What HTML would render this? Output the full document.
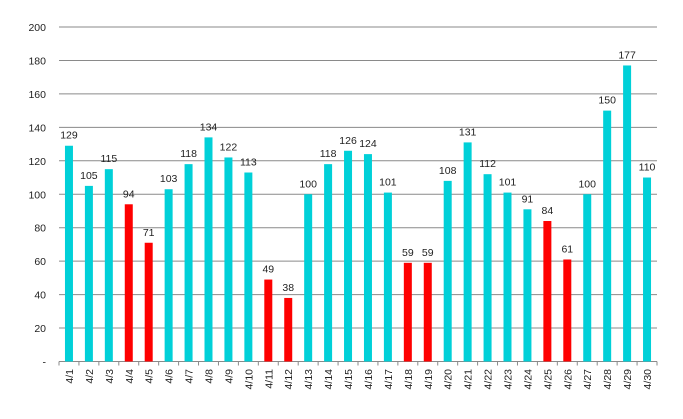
<!DOCTYPE html>
<html><head><meta charset="utf-8"><style>body{margin:0;background:#fff}svg{display:block}text{font-family:"Liberation Sans","DejaVu Sans",sans-serif;font-size:10.5px;fill:#222}</style></head><body>
<svg width="683" height="419" xmlns="http://www.w3.org/2000/svg" id="s"></svg>
<script>
const d=[129,105,115,94,71,103,118,134,122,113,49,38,100,118,126,124,101,59,59,108,131,112,101,91,84,61,100,150,177,110];
const red=[3,4,10,11,17,18,24,25];
let h='';const y0=361.5,k=334.5/200,x0=59,w=598/30;
for(let i=0;i<=10;i++){const y=y0-i*20*k;if(i>0)h+=`<line x1="${x0}" x2="657" y1="${y}" y2="${y}" stroke="#8a8a8a" stroke-width="1"/>`;h+=`<text x="46" y="${y+4}" text-anchor="end">${i?i*20:'-'}</text>`;}
h+=`<line x1="${x0}" x2="657" y1="${y0}" y2="${y0}" stroke="#8a8a8a"/>`;
for(let i=0;i<=30;i++){const x=x0+i*w;h+=`<line x1="${x}" x2="${x}" y1="${y0}" y2="${y0+4}" stroke="#8a8a8a"/>`;}
d.forEach((v,i)=>{const cx=x0+(i+.5)*w,t=y0-v*k;h+=`<rect x="${cx-4}" y="${t}" width="8" height="${v*k}" fill="${red.includes(i)?'#ff0000':'#00d0d8'}"/>`;h+=`<text x="${cx}" y="${t-7}" text-anchor="middle">${v}</text>`;h+=`<text transform="translate(${cx+4},369) rotate(-90)" text-anchor="end">4/${i+1}</text>`;});
document.getElementById('s').innerHTML=h;
</script>
</body></html>
